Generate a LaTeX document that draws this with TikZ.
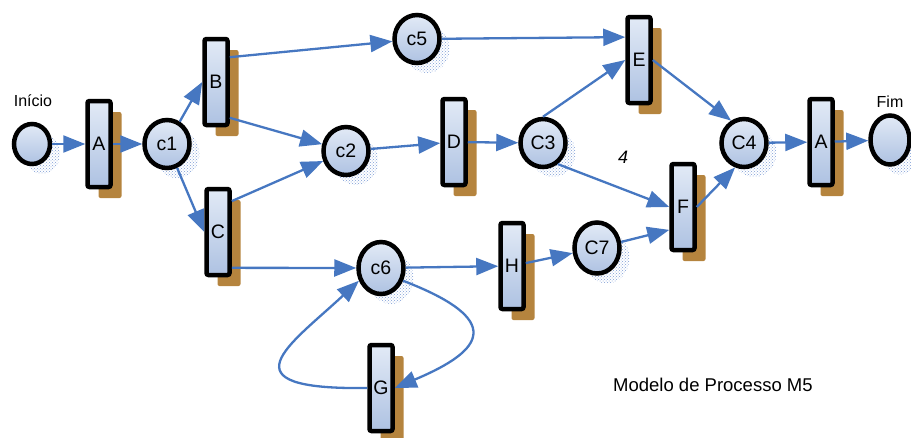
\documentclass[tikz,border=0pt]{standalone}
\usepackage{fontspec}
\setmainfont{Liberation Sans}
\usetikzlibrary{shapes.geometric, arrows.meta, shadows, patterns, positioning}
\definecolor{arrowblue}{HTML}{4677C1}
\definecolor{shadebrown}{HTML}{B5843E}
\definecolor{lightfill}{HTML}{E2EAF6}
\definecolor{darkfill}{HTML}{AEC2E2}
\definecolor{halo}{HTML}{7F9DD6}
\tikzstyle{place} = [ellipse, draw=black, line width=4.5pt, minimum width=45pt, minimum height=48pt, inner sep=0pt, top color=lightfill, bottom color=darkfill, general shadow={shadow xshift=10pt, shadow yshift=-10pt, pattern=crosshatch dots, pattern color=halo}, font=\fontsize{19.5}{21}\selectfont]
\tikzstyle{trans} = [rectangle, rounded corners=2pt, draw=black, line width=4.5pt, minimum width=23pt, minimum height=86pt, inner sep=0pt, top color=lightfill, bottom color=darkfill, drop shadow={shadow xshift=11pt, shadow yshift=-11pt, fill=shadebrown, opacity=1}, font=\fontsize{19.5}{21}\selectfont]
\tikzstyle{arrow} = [line width=2.3pt, draw=arrowblue, -{Triangle[length=22pt,width=17pt]}]
\tikzstyle{lbl} = [inner sep=0pt, anchor=base, font=\fontsize{16}{18}\selectfont]

\begin{document}
\begin{tikzpicture}[x=1pt, y=-1pt]
	\useasboundingbox (0,0) rectangle (911,437);
	% lugares
	\node[place, minimum width=36pt, minimum height=40pt] (inicio) at (32,144) {};
	\node[place] (c1) at (167,144) {c1};
	\node[place] (c5) at (417,39) {c5};
	\node[place] (c2) at (346,151) {c2};
	\node[place] (C3) at (543,143) {C3};
	\node[place, minimum height=51pt] (C7) at (597,248) {C7};
	\node[place] (C4) at (744,143) {C4};
	\node[place, minimum height=52pt] (c6) at (381,268) {c6};
	\node[place, minimum width=39pt, minimum height=49pt] (fim) at (890,140) {};
	% transicoes
	\node[trans] (A1) at (99,144) {A};
	\node[trans] (B) at (216,82) {B};
	\node[trans] (C) at (218,232) {C};
	\node[trans] (D) at (454,142) {D};
	\node[trans] (E) at (639,60) {E};
	\node[trans] (F) at (683,207) {F};
	\node[trans] (A2) at (821,142) {A};
	\node[trans] (H) at (512,266) {H};
	\node[trans] (G) at (381,388) {G};
	% rotulos
	\node[lbl] (tinicio) at (33,106) {Início};
	\node[lbl] (tfim) at (890,107) {Fim};
	\node[lbl, font=\fontsize{18}{20}\selectfont\itshape] (quatro) at (623,163) {4};
	\node[lbl, anchor=base west, font=\fontsize{18.5}{20}\selectfont] (modelo) at (613,391) {Modelo de Processo M5};
	% arcos
	\draw[arrow] (inicio) -- (A1);
	\draw[arrow] (A1) -- (c1);
	\draw[arrow] (c1) -- (B.west);
	\draw[arrow] (c1) -- (C.west);
	\draw[arrow] (B.61) -- (c5);
	\draw[arrow] (B.-69) -- (c2);
	\draw[arrow] (C.66) -- (c2);
	\draw[arrow] (C.-69) -- (c6);
	\draw[arrow] (c2) -- (D);
	\draw[arrow] (c5) -- (E.121);
	\draw[arrow] (D) -- (C3);
	\draw[arrow] (C3.north) -- (E.west);
	\draw[arrow] (C3.-55) -- (F.west);
	\draw[arrow] (E.east) -- (C4.120);
	\draw[arrow] (F.east) -- (C4.-110);
	\draw[arrow] (C4) -- (A2);
	\draw[arrow] (A2) -- (fim);
	\draw[arrow] (c6) -- (H);
	\draw[arrow] (H) -- (C7);
	\draw[arrow] (C7) -- (F.-121);
	\draw[arrow] (c6.-30) .. controls (505,320) and (485,350) .. (G.east);
	\draw[arrow] (G.west) .. controls (220,390) and (290,345) .. (c6.-150);
\end{tikzpicture}
\end{document}
